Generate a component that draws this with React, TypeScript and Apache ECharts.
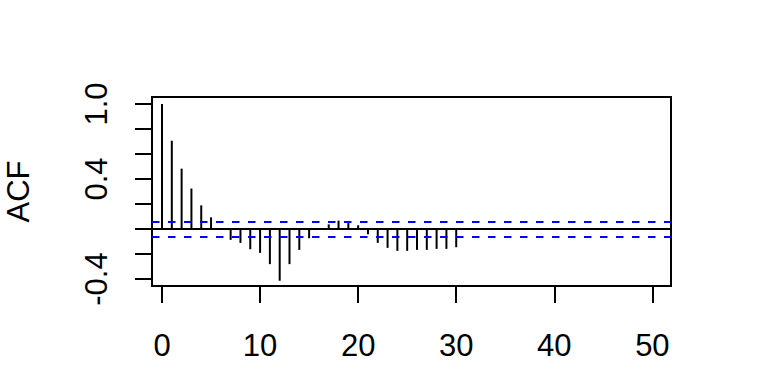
import React, { useEffect, useRef } from "react";
import * as echarts from "echarts";

const lags = [0, 1, 2, 3, 4, 5, 6, 7, 8, 9, 10, 11, 12, 13, 14, 15, 16, 17, 18, 19, 20, 21, 22, 23, 24, 25, 26, 27, 28, 29, 30];
const acfValues = [1.0, 0.706, 0.483, 0.324, 0.189, 0.093, 0.003, -0.087, -0.111, -0.162, -0.191, -0.281, -0.414, -0.281, -0.167, -0.074, 0.003, 0.037, 0.067, 0.056, 0.03, -0.042, -0.111, -0.151, -0.175, -0.175, -0.167, -0.167, -0.159, -0.159, -0.146];
const confBound = 0.064;
const xTicks = [0, 10, 20, 30, 40, 50];
const yTicks = [-0.4, -0.2, 0, 0.2, 0.4, 0.6, 0.8, 1.0];
const yTickLabels = [-0.4, 0.4, 1.0];

const FONT = "'Liberation Sans', Arial, sans-serif";

export default function App() {
  const ref = useRef<HTMLDivElement>(null);
  useEffect(() => {
    if (!ref.current) return;
    const chart = echarts.init(ref.current, null, { renderer: "svg" });
    chart.setOption({
      animation: false,
      backgroundColor: "#ffffff",
      grid: {
        left: 152,
        right: 97,
        top: 97,
        bottom: 98,
        containLabel: false,
        outerBoundsMode: "none",
        show: true,
        borderColor: "#000",
        borderWidth: 2,
        backgroundColor: "transparent",
      },
      xAxis: {
        type: "value",
        min: -1.02,
        max: 51.9,
        splitLine: { show: false },
        axisLine: { show: false, onZero: false },
        axisTick: {
          show: true,
          customValues: xTicks,
          length: 17,
          lineStyle: { color: "#000", width: 2 },
        },
        axisLabel: {
          show: true,
          customValues: xTicks,
          margin: 44,
          color: "#000",
          fontFamily: FONT,
          fontSize: 31,
          formatter: (v: number) => String(v),
        },
      },
      yAxis: {
        type: "value",
        min: -0.456,
        max: 1.056,
        name: "ACF",
        nameLocation: "middle",
        nameRotate: 90,
        nameGap: 118,
        nameTextStyle: { color: "#000", fontFamily: FONT, fontSize: 31 },
        splitLine: { show: false },
        axisLine: { show: false, onZero: false },
        axisTick: {
          show: true,
          customValues: yTicks,
          length: 17,
          lineStyle: { color: "#000", width: 2 },
        },
        axisLabel: {
          show: true,
          customValues: yTickLabels,
          rotate: 90,
          margin: 40,
          color: "#000",
          fontFamily: FONT,
          fontSize: 31,
          formatter: (v: number) => v.toFixed(1),
        },
      },
      series: [
        {
          type: "bar",
          data: lags.map((l, i) => [l, acfValues[i]]),
          barWidth: 2,
          itemStyle: { color: "#000" },
          silent: true,
          markLine: {
            symbol: "none",
            silent: true,
            label: { show: false },
            data: [
              { yAxis: 0, lineStyle: { color: "#000", type: "solid", width: 2 } },
              { yAxis: confBound, lineStyle: { color: "#0000ff", type: [7.5, 8.5], width: 2 } },
              { yAxis: -confBound, lineStyle: { color: "#0000ff", type: [7.5, 8.5], width: 2 } },
            ],
          },
        },
      ],
    });
    return () => chart.dispose();
  }, []);
  return (
    <div
      ref={ref}
      style={{ position: "fixed", left: 0, top: 0, width: 768, height: 384, background: "#fff" }}
    />
  );
}
